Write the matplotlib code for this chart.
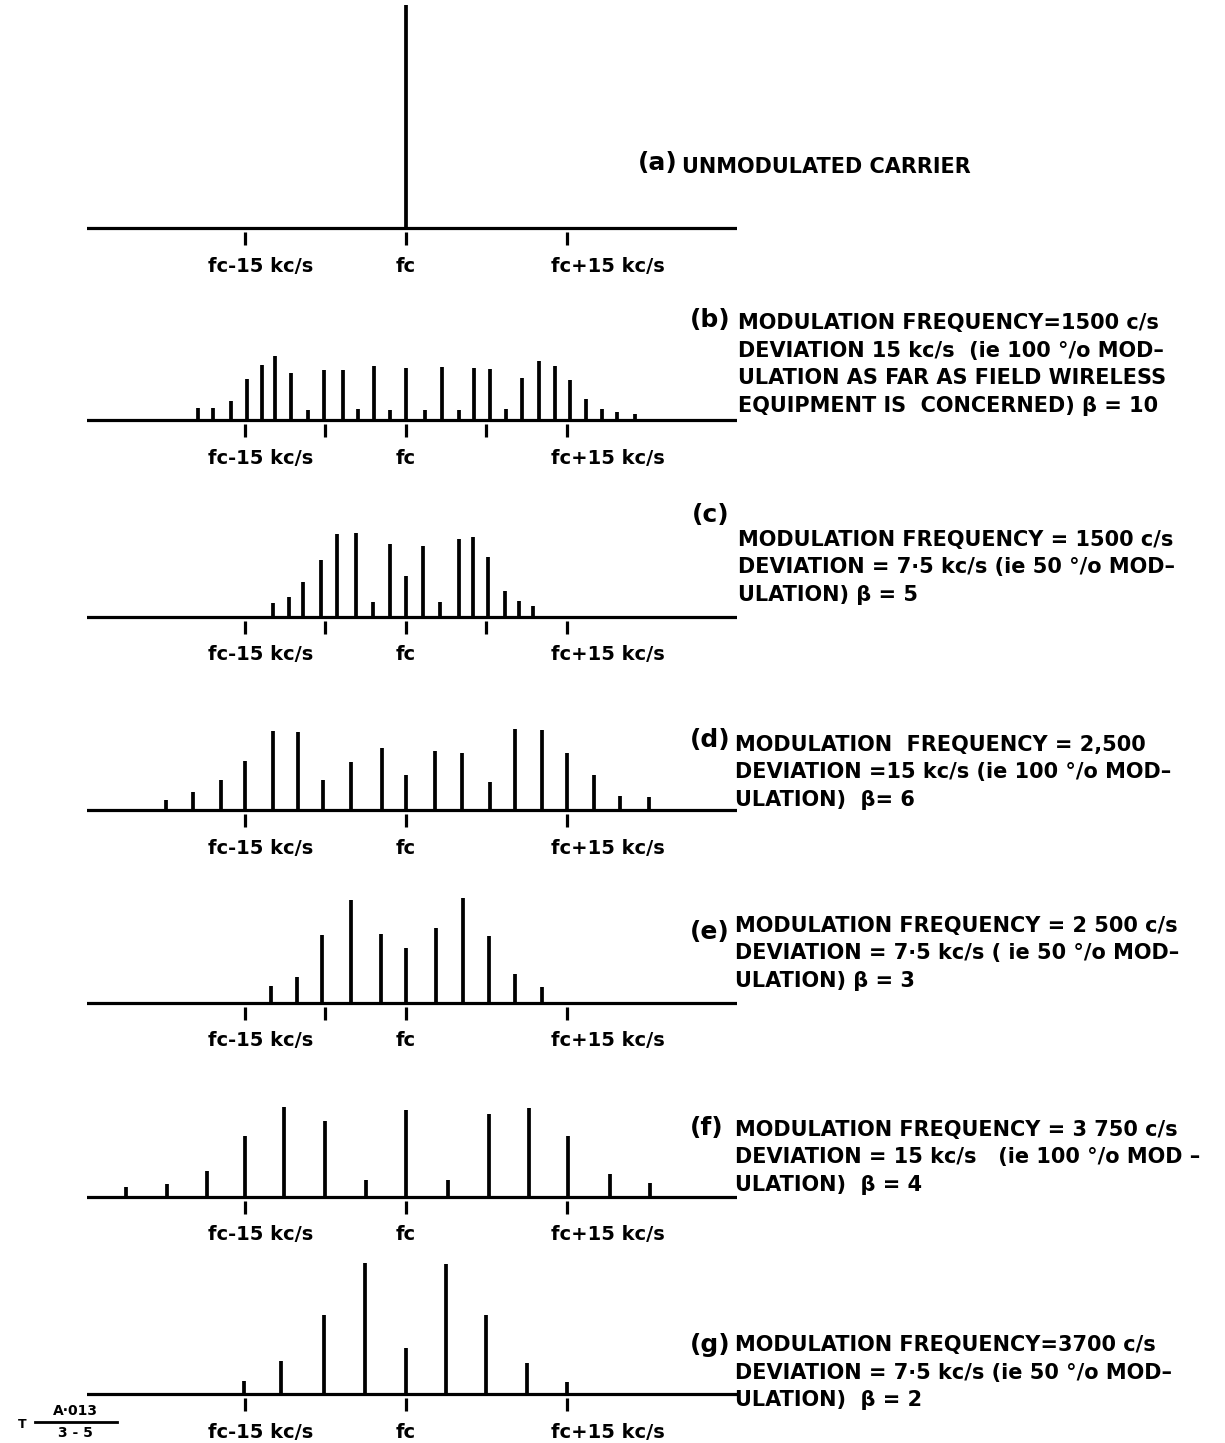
import matplotlib.pyplot as plt

# FM spectra: line offsets from the carrier fc (kc/s) and line heights
# (percent of the unmodulated carrier height).
a_off = [0.0]
a_amp = [100.0]

b_off = [-19.4, -18.0, -16.3, -14.8, -13.4, -12.2, -10.7, -9.1, -7.6, -5.9,
         -4.5, -3.0, -1.5, 0.0, 1.8, 3.4, 4.9, 6.3, 7.8, 9.3,
         10.8, 12.4, 13.9, 15.3, 16.8, 18.3, 19.7, 21.3]
b_amp = [5.5, 5.5, 8.5, 18.2, 24.5, 28.7, 21.2, 4.5, 22.3, 22.3,
         5.1, 24.2, 4.5, 23.5, 4.5, 23.9, 4.5, 23.5, 23.0, 5.1,
         18.7, 26.5, 24.2, 17.9, 9.6, 4.8, 3.6, 2.6]

c_off = [-12.4, -10.9, -9.6, -7.9, -6.4, -4.7, -3.1, -1.5, 0.0,
         1.6, 3.2, 4.9, 6.2, 7.6, 9.2, 10.5, 11.8]
c_amp = [6.3, 8.8, 15.7, 25.4, 37.4, 37.7, 6.6, 32.7, 18.2,
         32.0, 6.6, 35.1, 35.7, 26.9, 11.5, 7.3, 4.8]

d_off = [-22.4, -19.8, -17.2, -15.0, -12.4, -10.1, -7.7, -5.1, -2.2, 0.0,
         2.7, 5.2, 7.8, 10.2, 12.7, 15.0, 17.5, 19.9, 22.6]
d_amp = [4.5, 8.1, 13.5, 22.1, 35.6, 35.1, 13.5, 21.7, 27.8, 15.8,
         26.3, 25.7, 12.7, 36.3, 35.9, 25.4, 15.7, 6.4, 6.0]

e_off = [-12.6, -10.2, -7.8, -5.1, -2.3, 0.0, 2.8, 5.3, 7.7, 10.2, 12.7]
e_amp = [7.5, 11.5, 30.4, 46.3, 30.9, 24.7, 33.6, 47.1, 29.9, 13.0, 7.2]

f_off = [-26.1, -22.3, -18.5, -15.0, -11.4, -7.5, -3.7, 0.0,
         3.9, 7.7, 11.5, 15.1, 19.0, 22.7]
f_amp = [4.5, 6.0, 11.7, 27.4, 40.4, 34.1, 7.5, 38.9,
         7.8, 37.1, 39.8, 27.4, 10.2, 6.4]

g_off = [-15.1, -11.6, -7.6, -3.8, 0.0, 3.7, 7.5, 11.3, 15.0]
g_amp = [6.0, 14.7, 35.4, 58.6, 20.6, 58.3, 35.4, 13.9, 5.2]

# frequency marks under each baseline (kc/s from fc)
a_ticks = [-15, 0, 15]
b_ticks = [-15, -7.5, 0, 7.5, 15]
c_ticks = [-15, -7.5, 0, 7.5, 15]
d_ticks = [-15, 0, 15]
e_ticks = [-15, -7.5, 0, 15]
f_ticks = [-15, 0, 15]
g_ticks = [-15, 0, 15]

axis_labels = ["fc-15 kc/s", "fc", "fc+15 kc/s"]
label_pos = [-13.5, 0.0, 18.8]

a_text = ["UNMODULATED CARRIER"]
b_text = ["MODULATION FREQUENCY=1500 c/s",
          "DEVIATION 15 kc/s  (ie 100 °/o MOD–",
          "ULATION AS FAR AS FIELD WIRELESS",
          "EQUIPMENT IS  CONCERNED) β = 10"]
c_text = ["MODULATION FREQUENCY = 1500 c/s",
          "DEVIATION = 7·5 kc/s (ie 50 °/o MOD–",
          "ULATION) β = 5"]
d_text = ["MODULATION  FREQUENCY = 2,500",
          "DEVIATION =15 kc/s (ie 100 °/o MOD–",
          "ULATION)  β= 6"]
e_text = ["MODULATION FREQUENCY = 2 500 c/s",
          "DEVIATION = 7·5 kc/s ( ie 50 °/o MOD–",
          "ULATION) β = 3"]
f_text = ["MODULATION FREQUENCY = 3 750 c/s",
          "DEVIATION = 15 kc/s   (ie 100 °/o MOD –",
          "ULATION)  β = 4"]
g_text = ["MODULATION FREQUENCY=3700 c/s",
          "DEVIATION = 7·5 kc/s (ie 50 °/o MOD–",
          "ULATION)  β = 2"]

letters = ["(a)", "(b)", "(c)", "(d)", "(e)", "(f)", "(g)"]
offs = [a_off, b_off, c_off, d_off, e_off, f_off, g_off]
amps = [a_amp, b_amp, c_amp, d_amp, e_amp, f_amp, g_amp]
ticks = [a_ticks, b_ticks, c_ticks, d_ticks, e_ticks, f_ticks, g_ticks]
texts = [a_text, b_text, c_text, d_text, e_text, f_text, g_text]

# layout in pixels (figure is 1225 x 1443)
W, H = 1225, 1443
baselines = [228, 420, 617, 810, 1003, 1197, 1394]
letter_xy = [(638, 163), (690, 320), (692, 515), (690, 740),
             (690, 932), (690, 1128), (690, 1345)]
text_x = [682, 738, 738, 735, 735, 735, 735]
text_y0 = [167, 323, 540, 745, 926, 1130, 1345]
line_gap = 27.5

px_per_kc = 161 / 15.0
px_per_amp = 2.23
x0, x1, fc_px = 87, 737, 406
below, above = 55, 226

fig = plt.figure(figsize=(12.25, 14.43), dpi=100)
fig.patch.set_facecolor("white")

for i in range(7):
    by = baselines[i]
    ax = fig.add_axes([x0 / W, (H - by - below) / H, (x1 - x0) / W, (below + above) / H])
    ax.set_facecolor("none")
    ax.set_xlim((x0 - fc_px) / px_per_kc, (x1 - fc_px) / px_per_kc)
    ax.set_ylim(-below / px_per_amp, above / px_per_amp)
    ax.axis("off")
    ax.axhline(0, color="black", lw=2.3)
    ax.vlines(offs[i], 0, amps[i], color="black", lw=2.7)
    ax.vlines(ticks[i], -4 / px_per_amp, -17 / px_per_amp, color="black", lw=2.3)
    for lab, xp in zip(axis_labels, label_pos):
        ax.text(xp, -38 / px_per_amp, lab, ha="center", va="center",
                fontsize=14, fontweight="bold")

    lx, ly = letter_xy[i]
    fig.text(lx / W, 1 - ly / H, letters[i], ha="left", va="center",
             fontsize=18, fontweight="bold")
    for j, line in enumerate(texts[i]):
        fig.text(text_x[i] / W, 1 - (text_y0[i] + j * line_gap) / H, line,
                 ha="left", va="center", fontsize=15, fontweight="bold")

# drawing reference in the lower left corner
fig.text(18 / W, 1 - 1424 / H, "T", ha="left", va="center", fontsize=9, fontweight="bold")
fig.text(75 / W, 1 - 1411 / H, "A·013", ha="center", va="center", fontsize=10, fontweight="bold")
fig.text(75 / W, 1 - 1433 / H, "3 - 5", ha="center", va="center", fontsize=10, fontweight="bold")
fig.add_artist(plt.Line2D([35 / W, 117 / W], [1 - 1422 / H, 1 - 1422 / H], color="black", lw=2))

fig.savefig("out.png", dpi=100, facecolor="white")
